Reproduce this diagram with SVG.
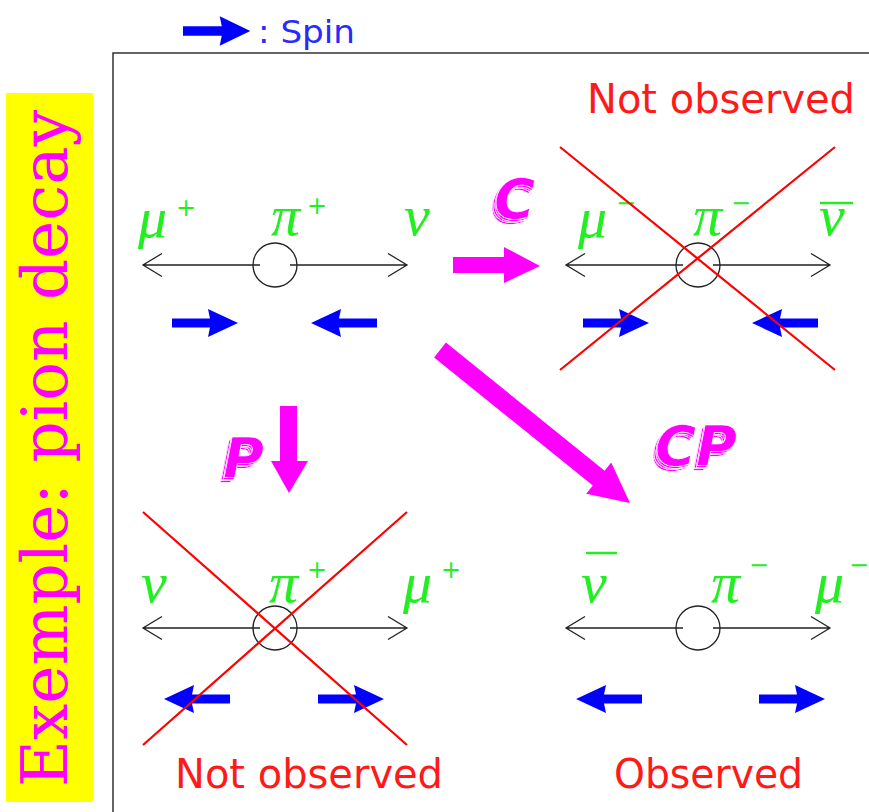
<svg xmlns="http://www.w3.org/2000/svg" xmlns:xlink="http://www.w3.org/1999/xlink" width="869" height="812" viewBox="0 0 869 812">
<style>
.ax{stroke:#222;stroke-width:1.3;fill:none}
.cross{stroke:#ff0000;stroke-width:2.2}
.lab{font-family:"Liberation Serif",serif;font-style:italic;font-size:58px;fill:#22ee22}
.sup{font-family:"DejaVu Sans",sans-serif;font-size:24px;fill:#22ee22}
.obs{font-family:"DejaVu Sans",sans-serif;font-size:40px;fill:#ff1a1a}
.op{font-family:"DejaVu Sans",sans-serif;font-weight:bold;font-style:italic;font-size:56px;fill:#ff00ff;stroke:#ffffff;stroke-width:0.7;filter:url(#stack)}
.mag{fill:#ff00ff}
.bar{stroke:#22ee22;stroke-width:2.5}
</style>
<defs>
<filter id="stack" x="-30%" y="-30%" width="160%" height="160%">
<feOffset in="SourceGraphic" dx="-4.5" dy="4.5" result="a"/>
<feOffset in="SourceGraphic" dx="-3" dy="3" result="b"/>
<feOffset in="SourceGraphic" dx="-1.5" dy="1.5" result="c"/>
<feMerge><feMergeNode in="a"/><feMergeNode in="b"/><feMergeNode in="c"/><feMergeNode in="SourceGraphic"/></feMerge>
</filter>
<path id="spin" d="M0,-4.5 L38,-4.5 L36,-14 L66,0 L36,14 L38,4.5 L0,4.5 Z" fill="#0000ff"/>
<g id="axis">
<path class="ax" d="M-132,0 H-15 M15,0 H132 M-113,-11.5 L-132,0 L-113,11.5 M113,-11.5 L132,0 L113,11.5"/>
<circle class="ax" cx="0" cy="0" r="22"/>
</g>
</defs>

<g id="title">
<rect x="6" y="93" width="87" height="709" fill="#ffff00"/>
<text transform="translate(67,787) rotate(-90)" font-family="DejaVu Serif, serif" font-size="64" fill="#ff00ff" textLength="677" lengthAdjust="spacingAndGlyphs">Exemple: pion decay</text>
</g>

<g id="legend">
<use xlink:href="#spin" transform="translate(183,31) scale(1.02,1.05)"/>
<text x="258" y="43" font-family="DejaVu Sans, sans-serif" font-size="32" fill="#2a2aff" textLength="97" lengthAdjust="spacingAndGlyphs">: Spin</text>
</g>

<g id="frame">
<path d="M113,812 V53 H869" fill="none" stroke="#333" stroke-width="1.5"/>
</g>

<g id="panel-tl">
<use xlink:href="#axis" transform="translate(275,265)"/>
<text class="lab" x="138" y="237">μ</text><text class="sup" x="176" y="216">+</text>
<text class="lab" x="271" y="235">π</text><text class="sup" x="307" y="214">+</text>
<text class="lab" x="404" y="235">ν</text>
<use xlink:href="#spin" transform="translate(172,323)"/>
<use xlink:href="#spin" transform="translate(377,323) scale(-1,1)"/>
</g>

<g id="panel-tr">
<text class="obs" x="587" y="113" textLength="268" lengthAdjust="spacingAndGlyphs">Not observed</text>
<use xlink:href="#axis" transform="translate(698,265)"/>
<text class="lab" x="578" y="237">μ</text><text class="sup" x="616" y="211">−</text>
<text class="lab" x="693" y="235">π</text><text class="sup" x="731" y="211">−</text>
<text class="lab" x="819" y="235">ν</text><line class="bar" x1="820" y1="203" x2="853" y2="203"/>
<use xlink:href="#spin" transform="translate(583,323)"/>
<use xlink:href="#spin" transform="translate(818,323) scale(-1,1)"/>
<path class="cross" d="M560,147 L835,370 M835,147 L560,370"/>
</g>

<g id="panel-bl">
<use xlink:href="#axis" transform="translate(275,628)"/>
<text class="lab" x="141" y="602">ν</text>
<text class="lab" x="269" y="602">π</text><text class="sup" x="307" y="578">+</text>
<text class="lab" x="403" y="602">μ</text><text class="sup" x="441" y="578">+</text>
<use xlink:href="#spin" transform="translate(230,699) scale(-1,1)"/>
<use xlink:href="#spin" transform="translate(318,699)"/>
<path class="cross" d="M143,512 L407,745 M407,512 L143,745"/>
<text class="obs" x="175" y="788" textLength="268" lengthAdjust="spacingAndGlyphs">Not observed</text>
</g>

<g id="panel-br">
<use xlink:href="#axis" transform="translate(698,628)"/>
<text class="lab" x="581" y="602">ν</text><line class="bar" x1="586" y1="553" x2="617" y2="553"/>
<text class="lab" x="711" y="602">π</text><text class="sup" x="749" y="573">−</text>
<text class="lab" x="815" y="602">μ</text><text class="sup" x="849" y="573">−</text>
<use xlink:href="#spin" transform="translate(642,699) scale(-1,1)"/>
<use xlink:href="#spin" transform="translate(759,699)"/>
<text class="obs" x="614" y="788" textLength="189" lengthAdjust="spacingAndGlyphs">Observed</text>
</g>

<g id="connectors">
<path class="mag" d="M453,257 H504 V247 L540,266 L504,283 V273 H453 Z"/>
<path class="mag" d="M280,406 H297 V461 H308 L289,493 L271,461 H280 Z"/>
<path class="mag" d="M434.1,357.4 L445.9,342.6 L604.6,470.7 L611.2,462.5 L630,503 L586.2,493.7 L592.8,485.5 Z"/>
</g>

<g id="op-labels">
<text class="op" x="494" y="218">C</text>
<text class="op" x="223" y="477">P</text>
<text class="op" x="655" y="465">CP</text>
</g>
</svg>
